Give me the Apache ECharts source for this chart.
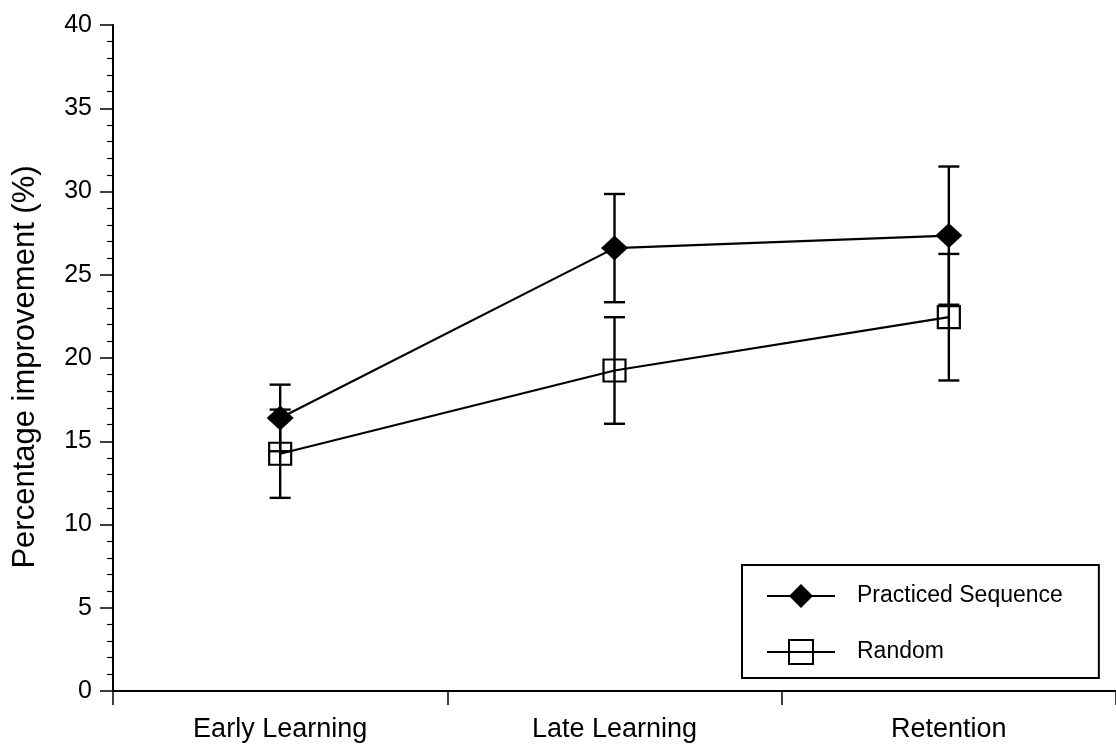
<!DOCTYPE html>
<html>
<head>
<meta charset="utf-8">
<script src="https://cdn.jsdelivr.net/npm/echarts@6/dist/echarts.min.js"></script>
<style>
  html, body { margin: 0; padding: 0; background: #fff; }
  #chart { width: 1116px; height: 745px; }
</style>
</head>
<body>
<div id="chart"></div>
<script>
// Learning phases on the x axis
const phases = ['Early Learning', 'Late Learning', 'Retention'];

// Mean percentage improvement and error (half-length of bar) per phase
const practicedMean = [16.4, 26.6, 27.35];
const practicedErr = [2.0, 3.25, 4.15];
const randomMean = [14.25, 19.25, 22.45];
const randomErr = [2.65, 3.2, 3.8];

// Y axis tick range
const yMin = 0;
const yMax = 40;
const yStep = 5;

const FONT = '"Liberation Sans", Arial, Helvetica, sans-serif';

function errorRange(mean, err) {
  return mean.map((m, i) => [i, m - err[i], m + err[i]]);
}

// Vertical error bar with horizontal caps
function renderErrorBar(params, api) {
  const idx = api.value(0);
  const lo = api.coord([idx, api.value(1)]);
  const hi = api.coord([idx, api.value(2)]);
  const half = 10.5;
  const style = { stroke: '#000', lineWidth: 2.4, fill: null };
  return {
    type: 'group',
    children: [
      { type: 'line', shape: { x1: lo[0], y1: lo[1], x2: hi[0], y2: hi[1] }, style },
      { type: 'line', shape: { x1: lo[0] - half, y1: lo[1], x2: lo[0] + half, y2: lo[1] }, style },
      { type: 'line', shape: { x1: hi[0] - half, y1: hi[1], x2: hi[0] + half, y2: hi[1] }, style }
    ]
  };
}

const chart = echarts.init(document.getElementById('chart'), null, { renderer: 'canvas' });

chart.setOption({
  animation: false,
  backgroundColor: '#fff',
  textStyle: { fontFamily: FONT, color: '#000' },
  grid: { left: 113, top: 25, bottom: 54, width: 1011, containLabel: false },
  legend: {
    data: ['Practiced Sequence', 'Random'],
    orient: 'vertical',
    left: 742,
    top: 565,
    padding: [19, 36, 13, 24],
    itemWidth: 68,
    itemHeight: 30,
    itemGap: 31,
    borderColor: '#000',
    borderWidth: 2,
    borderRadius: 0,
    textStyle: { fontFamily: FONT, fontSize: 23, color: '#000', padding: [0, 0, 0, 17] }
  },
  xAxis: {
    type: 'category',
    data: phases,
    boundaryGap: true,
    axisLine: { show: true, lineStyle: { color: '#000', width: 2 } },
    axisTick: { show: true, length: 14, lineStyle: { color: '#000', width: 1.5 } },
    axisLabel: { fontFamily: FONT, fontSize: 27, color: '#000', margin: 25 },
    splitLine: { show: false }
  },
  yAxis: {
    type: 'value',
    min: yMin,
    max: yMax,
    interval: yStep,
    name: 'Percentage improvement (%)',
    nameLocation: 'middle',
    nameGap: 72,
    nameTextStyle: { fontFamily: FONT, fontSize: 31, color: '#000', padding: [0, 18, 0, 0] },
    axisLine: { show: true, lineStyle: { color: '#000', width: 2 } },
    axisTick: { show: true, length: 13, lineStyle: { color: '#000', width: 1.5 } },
    minorTick: { show: true, splitNumber: 5, length: 6, lineStyle: { color: '#000', width: 1.2 } },
    axisLabel: { fontFamily: FONT, fontSize: 25, color: '#000', margin: 21 },
    splitLine: { show: false }
  },
  series: [
    {
      name: 'Practiced Sequence',
      type: 'line',
      data: practicedMean,
      symbol: 'diamond',
      symbolSize: [27, 25],
      showAllSymbol: true,
      lineStyle: { color: '#000', width: 2.2 },
      itemStyle: { color: '#000', borderColor: '#000', borderWidth: 0 },
      z: 4
    },
    {
      name: 'Random',
      type: 'line',
      data: randomMean,
      symbol: 'rect',
      symbolSize: 22,
      showAllSymbol: true,
      lineStyle: { color: '#000', width: 2.2 },
      itemStyle: { color: 'rgba(255,255,255,0)', borderColor: '#000', borderWidth: 2.2 },
      z: 4
    },
    {
      name: 'Practiced Sequence error',
      type: 'custom',
      renderItem: renderErrorBar,
      data: errorRange(practicedMean, practicedErr),
      encode: { x: 0, y: [1, 2] },
      z: 3
    },
    {
      name: 'Random error',
      type: 'custom',
      renderItem: renderErrorBar,
      data: errorRange(randomMean, randomErr),
      encode: { x: 0, y: [1, 2] },
      z: 3
    }
  ]
});
</script>
</body>
</html>
